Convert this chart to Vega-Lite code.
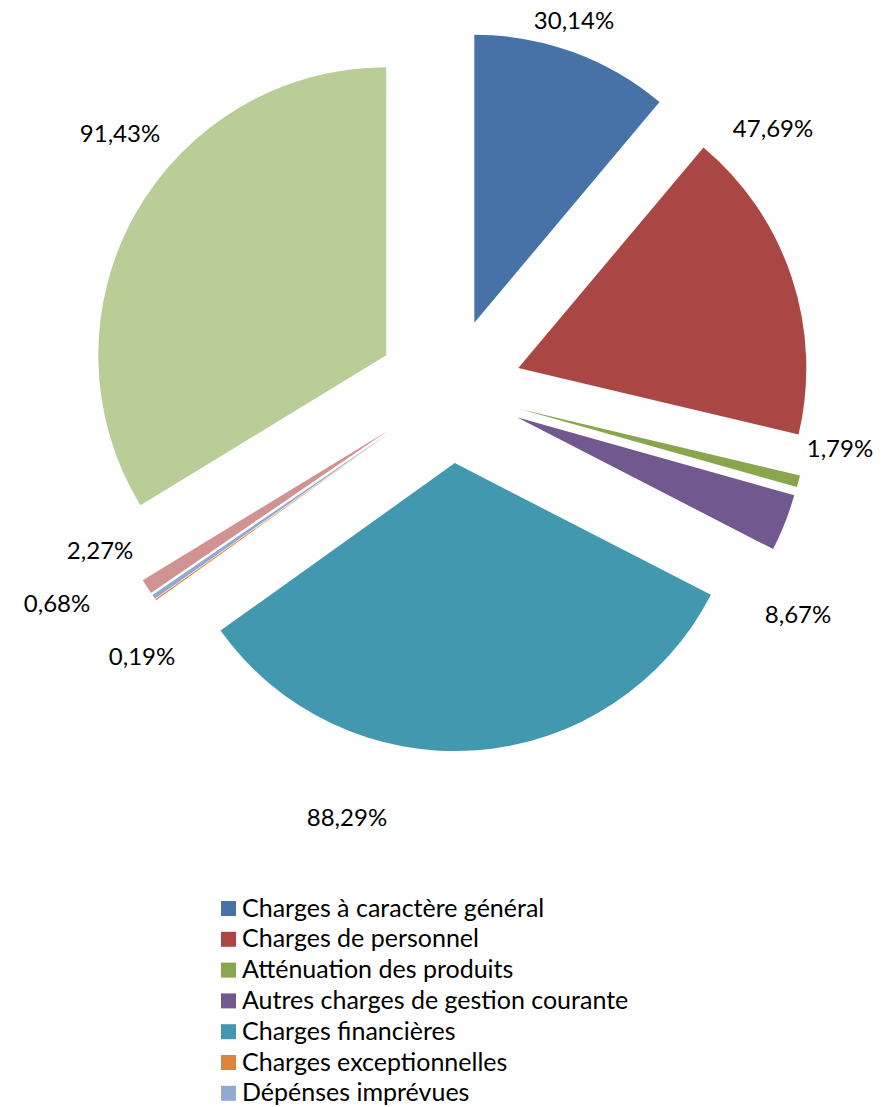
{
  "$schema": "https://vega.github.io/schema/vega-lite/v6.json",
  "width": 883,
  "height": 1107,
  "autosize": "none",
  "padding": 0,
  "data": {
    "values": [
      {"cat": "Charges à caractère général", "share": 0.3014, "order": 1},
      {"cat": "Charges de personnel", "share": 0.4769, "order": 2},
      {"cat": "Atténuation des produits", "share": 0.0179, "order": 3},
      {"cat": "Autres charges de gestion courante", "share": 0.0867, "order": 4},
      {"cat": "Charges financières", "share": 0.8829, "order": 5},
      {"cat": "Charges exceptionnelles", "share": 0.0019, "order": 6},
      {"cat": "Dépénses imprévues", "share": 0.0068, "order": 7},
      {"cat": "Opérations d'ordre", "share": 0.0227, "order": 8},
      {"cat": "Virement à la section d'investissement", "share": 0.9143, "order": 9}
    ]
  },
  "encoding": {
    "theta": {"field": "share", "type": "quantitative", "stack": true},
    "order": {"field": "order", "type": "quantitative"},
    "x": {"value": {"expr": "449.5 + 72.5 * sin(scale('theta', (datum.share_start + datum.share_end) / 2))"}},
    "y": {"value": {"expr": "390.8 - 72.5 * cos(scale('theta', (datum.share_start + datum.share_end) / 2))"}}
  },
  "layer": [
    {
      "mark": {"type": "arc", "radius": 288, "strokeWidth": 0},
      "encoding": {
        "color": {
          "field": "cat",
          "type": "nominal",
          "scale": {
            "domain": ["Charges à caractère général", "Charges de personnel", "Atténuation des produits", "Autres charges de gestion courante", "Charges financières", "Charges exceptionnelles", "Dépénses imprévues", "Opérations d'ordre", "Virement à la section d'investissement"],
            "range": ["#4672A8", "#AA4643", "#89A54E", "#71588F", "#4198AF", "#DB843D", "#93A9CF", "#D19392", "#B9CD96"]
          },
          "legend": {
            "title": null,
            "orient": "none",
            "legendX": 216,
            "legendY": 896,
            "values": ["Charges à caractère général", "Charges de personnel", "Atténuation des produits", "Autres charges de gestion courante", "Charges financières", "Charges exceptionnelles", "Dépénses imprévues"],
            "symbolType": "square",
            "symbolSize": 225,
            "symbolStrokeWidth": 0,
            "symbolOpacity": 1,
            "labelFont": "Lato",
            "labelFontSize": 25,
            "labelColor": "#000000",
            "labelOffset": 1,
            "labelLimit": 600,
            "rowPadding": 4.8,
            "padding": 0
          }
        }
      }
    },
    {
      "mark": {"type": "text", "radius": 316.8, "thetaOffset": -0.029, "font": "Lato", "fontSize": 24, "color": "#000000", "align": "center", "baseline": "middle"},
      "encoding": {"detail": {"field": "cat"}, "text": {"condition": {"test": "datum.order === 1", "field": "share", "format": ".2%"}, "value": ""}}
    },
    {
      "mark": {"type": "text", "radius": 348.6, "thetaOffset": -0.4316, "font": "Lato", "fontSize": 24, "color": "#000000", "align": "center", "baseline": "middle"},
      "encoding": {"detail": {"field": "cat"}, "text": {"condition": {"test": "datum.order === 2", "field": "share", "format": ".2%"}, "value": ""}}
    },
    {
      "mark": {"type": "text", "radius": 322.9, "thetaOffset": -0.126, "font": "Lato", "fontSize": 24, "color": "#000000", "align": "center", "baseline": "middle"},
      "encoding": {"detail": {"field": "cat"}, "text": {"condition": {"test": "datum.order === 3", "field": "share", "format": ".2%"}, "value": ""}}
    },
    {
      "mark": {"type": "text", "radius": 344.2, "thetaOffset": 0.2407, "font": "Lato", "fontSize": 24, "color": "#000000", "align": "center", "baseline": "middle"},
      "encoding": {"detail": {"field": "cat"}, "text": {"condition": {"test": "datum.order === 4", "field": "share", "format": ".2%"}, "value": ""}}
    },
    {
      "mark": {"type": "text", "radius": 371.9, "thetaOffset": 0.3669, "font": "Lato", "fontSize": 24, "color": "#000000", "align": "center", "baseline": "middle"},
      "encoding": {"detail": {"field": "cat"}, "text": {"condition": {"test": "datum.order === 5", "field": "share", "format": ".2%"}, "value": ""}}
    },
    {
      "mark": {"type": "text", "radius": 335.3, "thetaOffset": -0.1182, "font": "Lato", "fontSize": 24, "color": "#000000", "align": "center", "baseline": "middle"},
      "encoding": {"detail": {"field": "cat"}, "text": {"condition": {"test": "datum.order === 6", "field": "share", "format": ".2%"}, "value": ""}}
    },
    {
      "mark": {"type": "text", "radius": 375.2, "thetaOffset": 0.1295, "font": "Lato", "fontSize": 24, "color": "#000000", "align": "center", "baseline": "middle"},
      "encoding": {"detail": {"field": "cat"}, "text": {"condition": {"test": "datum.order === 7", "field": "share", "format": ".2%"}, "value": ""}}
    },
    {
      "mark": {"type": "text", "radius": 313.2, "thetaOffset": 0.1747, "font": "Lato", "fontSize": 24, "color": "#000000", "align": "center", "baseline": "middle"},
      "encoding": {"detail": {"field": "cat"}, "text": {"condition": {"test": "datum.order === 8", "field": "share", "format": ".2%"}, "value": ""}}
    },
    {
      "mark": {"type": "text", "radius": 345.6, "thetaOffset": 0.1798, "font": "Lato", "fontSize": 24, "color": "#000000", "align": "center", "baseline": "middle"},
      "encoding": {"detail": {"field": "cat"}, "text": {"condition": {"test": "datum.order === 9", "field": "share", "format": ".2%"}, "value": ""}}
    }
  ],
  "config": {
    "view": {"stroke": null},
    "font": "Lato",
    "locale": {"number": {"decimal": ",", "thousands": "\u00a0", "grouping": [3], "currency": ["", "\u00a0€"]}}
  }
}
